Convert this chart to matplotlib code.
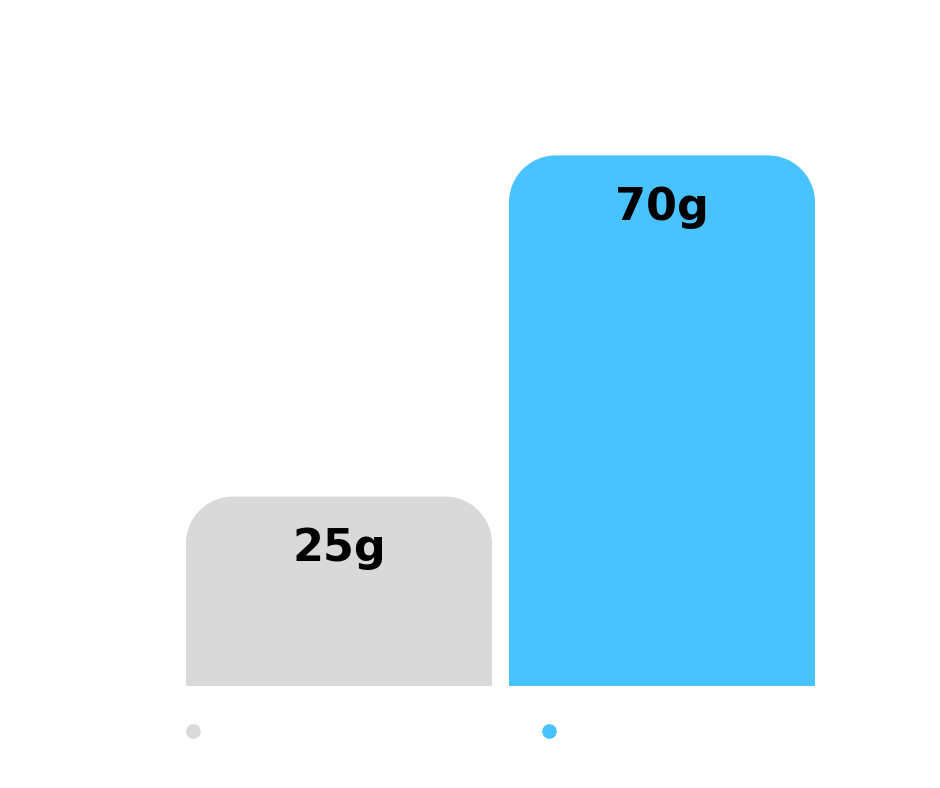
import numpy as np
import matplotlib.pyplot as plt
from matplotlib.patches import Polygon
from matplotlib.lines import Line2D

# data
categories = ['', '']
values = [25, 70]
labels = ['25g', '70g']
colors = ['#D9D9D9', '#48C3FF']

W, H = 940, 788
fig = plt.figure(figsize=(W / 100, H / 100), dpi=100)
fig.patch.set_facecolor('white')

# axes placed so the baseline sits at y=686px
ax_left, ax_w = 177.5, 646
ax_bottom = H - 686
ymax = 80
px_per_unit = 7.58
ax_h = ymax * px_per_unit
ax = fig.add_axes([ax_left / W, ax_bottom / H, ax_w / W, ax_h / H])
ax.set_xlim(-0.5, 1.5)
ax.set_ylim(0, ymax)
ax.axis('off')

x = np.arange(len(values))
bar_w = 306 / 323
radius_px = 47
x_per_px = 2 / ax_w
y_per_px = ymax / ax_h
rx = radius_px * x_per_px
ry = radius_px * y_per_px


def top_rounded_bar(xc, h):
    l, r = xc - bar_w / 2, xc + bar_w / 2
    t = np.linspace(0, np.pi / 2, 30)
    # right corner then left corner, going counter-clockwise
    right = np.c_[r - rx + rx * np.cos(t), h - ry + ry * np.sin(t)]
    left = np.c_[l + rx - rx * np.cos(t[::-1]), h - ry + ry * np.sin(t[::-1])]
    pts = np.vstack([[r, 0], right, left, [l, 0]])
    return pts


for xi, v, c, lab in zip(x, values, colors, labels):
    ax.add_patch(Polygon(top_rounded_bar(xi, v), closed=True, fc=c, ec='none'))
    ax.text(xi, v - 65 * y_per_px, lab, ha='center', va='baseline',
            fontsize=32, fontweight='bold', family='DejaVu Sans',
            color='black')

handles = [Line2D([], [], marker='o', ls='none', color=c, markersize=9.5)
           for c in colors]
fig.legend(handles, categories, loc='center left',
           bbox_to_anchor=(186.5 / W, 1 - 731.5 / H), bbox_transform=fig.transFigure,
           ncol=2, frameon=False, handlelength=1, handletextpad=0,
           columnspacing=(356 - 13.9) / 13.9, borderpad=0, borderaxespad=0,
           fontsize=10)

fig.savefig('out.png', dpi=100, facecolor='white')
